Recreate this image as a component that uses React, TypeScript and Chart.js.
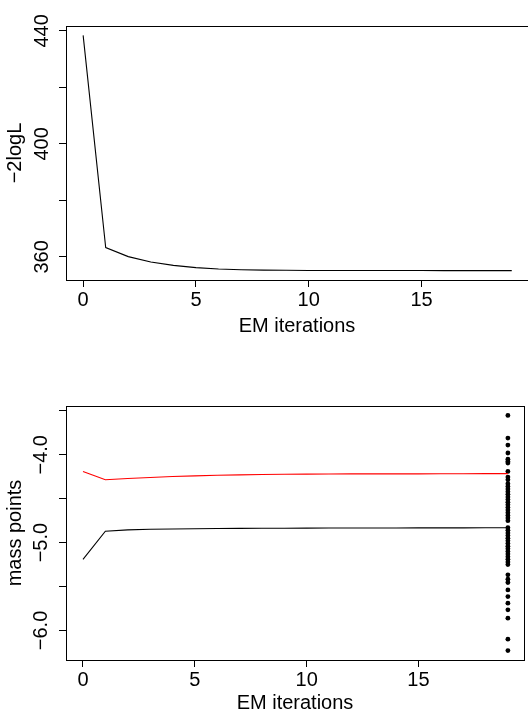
import React, { useEffect, useRef } from "react";
import { Chart, registerables } from "chart.js";

Chart.register(...registerables);

// ---------- data ----------
const iterations = [0, 1, 2, 3, 4, 5, 6, 7, 8, 9, 10, 11, 12, 13, 14, 15, 16, 17, 18, 19];

const minus2logL = [
  438.4, 363.3, 360.1, 358.2, 357.0, 356.2, 355.7, 355.45, 355.3, 355.25,
  355.2, 355.2, 355.18, 355.17, 355.16, 355.16, 355.15, 355.15, 355.15, 355.15,
];

const massRed = [
  -4.19, -4.285, -4.27, -4.258, -4.248, -4.24, -4.234, -4.229, -4.225, -4.222,
  -4.22, -4.219, -4.218, -4.218, -4.217, -4.217, -4.216, -4.216, -4.215, -4.215,
];

const massBlack = [
  -5.19, -4.87, -4.855, -4.848, -4.845, -4.842, -4.84, -4.838, -4.837, -4.836,
  -4.835, -4.834, -4.834, -4.833, -4.833, -4.832, -4.832, -4.832, -4.831, -4.831,
];

const finalIteration = 19;
const finalMassPoints = [
  -3.552, -3.81, -3.89, -3.98, -4.05, -4.076, -4.095, -4.19, -4.254, -4.285,
  -4.33, -4.36, -4.39, -4.42, -4.45, -4.48, -4.51, -4.54, -4.57, -4.6, -4.63, -4.66, -4.69, -4.72, -4.75,
  -4.83, -4.86, -4.89, -4.92, -4.95, -4.98, -5.01, -5.04, -5.07, -5.1, -5.13, -5.16, -5.19, -5.22, -5.25,
  -5.367, -5.416, -5.454, -5.538, -5.614, -5.689, -5.765, -5.86, -6.099, -6.229,
];

const xTicks = [0, 5, 10, 15];
const xTickLabels = ["0", "5", "10", "15"];

const topYTicks = [360, 380, 400, 420, 440];
const topYTickLabels = ["360", "", "400", "", "440"];

const bottomYTicks = [-6.0, -5.5, -5.0, -4.5, -4.0, -3.5];
const bottomYTickLabels = ["\u22126.0", "", "\u22125.0", "", "\u22124.0", ""];

const xTitle = "EM iterations";
const topYTitle = "\u22122logL";
const bottomYTitle = "mass points";

// ---------- style ----------
const FONT = "'Liberation Sans', Arial, Helvetica, sans-serif";
const X_MIN = -0.76;
const X_MAX = 19.72;

const boxPlugin = {
  id: "rbox",
  afterDraw(chart: any) {
    const { ctx, chartArea: a } = chart;
    ctx.save();
    ctx.strokeStyle = "#000";
    ctx.lineWidth = 1;
    ctx.strokeRect(a.left + 0.5, a.top + 0.5, a.right - a.left, a.bottom - a.top);
    ctx.restore();
  },
};

function gridOpts() {
  return {
    drawOnChartArea: false,
    drawTicks: true,
    tickLength: 7,
    color: "#000",
    lineWidth: 1,
  };
}

function xScale(axisHeight: number, titleBottom: number) {
  return {
    type: "linear",
    position: "bottom",
    min: X_MIN,
    max: X_MAX,
    afterBuildTicks: (s: any) => {
      s.ticks = xTicks.map((v) => ({ value: v }));
    },
    afterFit: (s: any) => {
      s.height = axisHeight;
    },
    grid: gridOpts(),
    border: { display: false },
    ticks: {
      autoSkip: false,
      minRotation: 0,
      maxRotation: 0,
      padding: 1,
      color: "#000",
      font: { family: FONT, size: 20 },
      callback: (_v: any, i: number) => xTickLabels[i],
    },
    title: {
      display: true,
      text: xTitle,
      color: "#000",
      font: { family: FONT, size: 20 },
      padding: { top: 0, bottom: titleBottom },
    },
  };
}

function yScale(min: number, max: number, ticks: number[], labels: string[], title: string, pad: number) {
  return {
    type: "linear",
    position: "left",
    min,
    max,
    afterBuildTicks: (s: any) => {
      s.ticks = ticks.map((v) => ({ value: v }));
    },
    afterFit: (s: any) => {
      s.width = 66;
    },
    grid: gridOpts(),
    border: { display: false },
    ticks: {
      autoSkip: false,
      minRotation: 90,
      maxRotation: 90,
      crossAlign: "center",
      padding: pad,
      color: "#000",
      font: { family: FONT, size: 20 },
      callback: (_v: any, i: number) => labels[i],
    },
    title: {
      display: true,
      text: title,
      color: "#000",
      font: { family: FONT, size: 20 },
      padding: { top: 3, bottom: 0 },
    },
  };
}

export default function App() {
  const topRef = useRef<HTMLCanvasElement>(null);
  const botRef = useRef<HTMLCanvasElement>(null);

  useEffect(() => {
    const top = new Chart(topRef.current as HTMLCanvasElement, {
      type: "line",
      data: {
        datasets: [
          {
            data: iterations.map((x, i) => ({ x, y: minus2logL[i] })),
            borderColor: "#000",
            borderWidth: 1.1,
            pointRadius: 0,
            tension: 0,
          },
        ],
      },
      options: {
        animation: false,
        responsive: false,
        devicePixelRatio: 1,
        layout: { padding: { top: 26, left: 0, right: 0, bottom: 0 } },
        plugins: { legend: { display: false }, tooltip: { enabled: false } },
        scales: {
          x: xScale(78, 20),
          y: yScale(351.82, 441.73, topYTicks, topYTickLabels, topYTitle, 0),
        },
      } as any,
      plugins: [boxPlugin],
    });

    const bottom = new Chart(botRef.current as HTMLCanvasElement, {
      type: "line",
      data: {
        datasets: [
          {
            data: iterations.map((x, i) => ({ x, y: massRed[i] })),
            borderColor: "#FF0000",
            borderWidth: 1.1,
            pointRadius: 0,
            tension: 0,
          },
          {
            data: iterations.map((x, i) => ({ x, y: massBlack[i] })),
            borderColor: "#000",
            borderWidth: 1.1,
            pointRadius: 0,
            tension: 0,
          },
          {
            data: finalMassPoints.map((y) => ({ x: finalIteration, y })),
            showLine: false,
            pointRadius: 2.4,
            pointBorderWidth: 0,
            pointBackgroundColor: "#000",
            borderColor: "#000",
          },
        ],
      },
      options: {
        animation: false,
        responsive: false,
        devicePixelRatio: 1,
        layout: { padding: { top: 48, left: 0, right: 0, bottom: 0 } },
        plugins: { legend: { display: false }, tooltip: { enabled: false } },
        scales: {
          x: xScale(55, 0),
          y: yScale(-6.336, -3.445, bottomYTicks, bottomYTickLabels, bottomYTitle, -2),
        },
      } as any,
      plugins: [boxPlugin],
    });

    return () => {
      top.destroy();
      bottom.destroy();
    };
  }, []);

  return (
    <div style={{ position: "absolute", left: 0, top: 0, width: 528, height: 715, background: "#fff" }}>
      <canvas ref={topRef} width={528} height={358} style={{ display: "block" }} />
      <canvas ref={botRef} width={528} height={357} style={{ display: "block" }} />
    </div>
  );
}
